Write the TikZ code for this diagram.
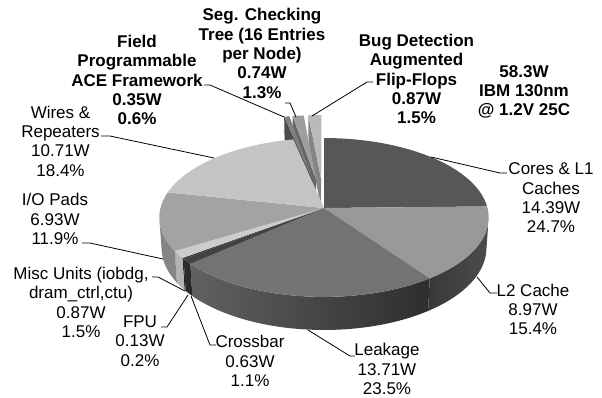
\documentclass[tikz,border=0pt]{standalone}
\usepackage{fontspec}
\setmainfont{Liberation Sans}

% grey levels of the slices
\definecolor{coresTop}{gray}{0.34}
\definecolor{ltwoTop}{gray}{0.60}
\definecolor{ltwoSideA}{gray}{0.22}
\definecolor{ltwoSideB}{gray}{0.30}
\definecolor{leakTop}{gray}{0.45}
\definecolor{leakSideA}{gray}{0.38}
\definecolor{leakSideB}{gray}{0.18}
\definecolor{crossTop}{gray}{0.26}
\definecolor{crossSide}{gray}{0.17}
\definecolor{fpuTop}{gray}{0.20}
\definecolor{fpuSide}{gray}{0.14}
\definecolor{miscTop}{gray}{0.80}
\definecolor{miscSide}{gray}{0.70}
\definecolor{ioTop}{gray}{0.64}
\definecolor{ioSide}{gray}{0.52}
\definecolor{wiresTop}{gray}{0.77}
\definecolor{fieldTop}{gray}{0.50}
\definecolor{fieldWall}{gray}{0.30}
\definecolor{segTop}{gray}{0.62}
\definecolor{segWall}{gray}{0.40}
\definecolor{bugTop}{gray}{0.73}
\definecolor{bugWall}{gray}{0.52}

% top face of a slice: start angle, end angle, shift x, shift y, fill options
\newcommand\pietop[5]{%
  \path[#5] ({pu(#3,#4,0)},{pv(#3,#4,0)})
    -- plot[domain=#1:#2,samples=36,variable=\t]
       ({pu(#3+cos(\t),#4+sin(\t),0)},{pv(#3+cos(\t),#4+sin(\t),0)})
    -- cycle;}
% outer side of a slice (not exploded): start angle, end angle, fill options
\newcommand\pieside[3]{%
  \path[#3] plot[domain=#1:#2,samples=36,variable=\t]
       ({pu(cos(\t),sin(\t),0)},{pv(cos(\t),sin(\t),0)})
    -- plot[domain=#2:#1,samples=36,variable=\t]
       ({pu(cos(\t),sin(\t),-0.215)},{pv(cos(\t),sin(\t),-0.215)})
    -- cycle;}
% radial cut wall of an exploded slice: angle, shift x, shift y, fill options
\newcommand\piewall[4]{%
  \path[#4] ({pu(#2,#3,0)},{pv(#2,#3,0)})
    -- ({pu(#2+cos(#1),#3+sin(#1),0)},{pv(#2+cos(#1),#3+sin(#1),0)})
    -- ({pu(#2+cos(#1),#3+sin(#1),-0.215)},{pv(#2+cos(#1),#3+sin(#1),-0.215)})
    -- ({pu(#2,#3,-0.215)},{pv(#2,#3,-0.215)}) -- cycle;}

\begin{document}
\begin{tikzpicture}[x=1bp,y=-1bp,
  declare function={
    pd(\pa,\pb,\pc)=7.38+0.878*\pb-0.479*\pc;
    pu(\pa,\pb,\pc)=324+1206.6*\pa/pd(\pa,\pb,\pc);
    pv(\pa,\pb,\pc)=208-1206.6*(0.479*\pb+0.878*\pc)/pd(\pa,\pb,\pc);
  },
  lbl/.style={align=center,inner sep=0pt,font=\fontsize{17bp}{19.3bp}\selectfont},
  blbl/.style={align=center,inner sep=0pt,font=\fontsize{17bp}{19.3bp}\selectfont\bfseries},
  leader/.style={draw=black,line width=0.8bp},
]
\fill[white] (0,0) rectangle (602,397);
\useasboundingbox (0,0) rectangle (602,397);

% exploded slices at the back
\piewall{95.37}{-0.0179}{0.3826}{fill=bugWall}
\pietop{95.37}{90}{-0.0179}{0.3826}{fill=bugTop}
\piewall{99.94}{-0.0510}{0.3796}{fill=segWall}
\pietop{99.94}{95.37}{-0.0510}{0.3796}{fill=segTop}
\piewall{102.10}{-0.0732}{0.3760}{fill=fieldWall}
\pietop{102.10}{99.94}{-0.0732}{0.3760}{fill=fieldTop}

% outer sides of the front slices
\pieside{-8.88}{-54.25}{left color=ltwoSideA,right color=ltwoSideB}
\pieside{-54.25}{-138.91}{left color=leakSideA,right color=leakSideB}
\pieside{-138.91}{-142.80}{fill=crossSide}
\pieside{-142.80}{-143.60}{fill=fpuSide}
\pieside{-143.60}{-148.97}{fill=miscSide}
\pieside{-148.97}{-171.12}{fill=ioSide}

% top faces
\pietop{90}{1.14}{0}{0}{fill=coresTop}
\pietop{1.14}{-54.25}{0}{0}{fill=ltwoTop}
\pietop{-54.25}{-138.91}{0}{0}{fill=leakTop}
\pietop{-138.91}{-142.80}{0}{0}{fill=crossTop}
\pietop{-142.80}{-143.60}{0}{0}{fill=fpuTop}
\pietop{-143.60}{-148.97}{0}{0}{fill=miscTop}
\pietop{-148.97}{-191.77}{0}{0}{fill=ioTop}
\pietop{-191.77}{-257.90}{0}{0}{fill=wiresTop}

% labels
\node[lbl]  (cores) at (551,198)   {Cores \& L1\\Caches\\14.39W\\24.7\%};
\node[lbl]  (ltwo)  at (533,309.5) {L2 Cache\\8.97W\\15.4\%};
\node[lbl]  (leak)  at (387,369)   {Leakage\\13.71W\\23.5\%};
\node[lbl]  (cross) at (250,361)   {Crossbar\\0.63W\\1.1\%};
\node[lbl]  (fpu)   at (140,341)   {FPU\\0.13W\\0.2\%};
\node[lbl]  (misc)  at (81,302.5)  {Misc Units (iobdg,\\dram\_ctrl,ctu)\\0.87W\\1.5\%};
\node[lbl]  (io)    at (55,219)    {I/O Pads\\6.93W\\11.9\%};
\node[lbl]  (wires) at (60.5,141)  {Wires \&\\Repeaters\\10.71W\\18.4\%};
\node[blbl] (field) at (137,80)    {Field\\Programmable\\ACE Framework\\0.35W\\0.6\%};
\node[blbl] (seg)   at (262,53.5)  {Seg. Checking\\Tree (16 Entries\\per Node)\\0.74W\\1.3\%};
\node[blbl] (bug)   at (416.5,79)  {Bug Detection\\Augmented\\Flip-Flops\\0.87W\\1.5\%};
\node[blbl] (total) at (524,92)    {58.3W\\IBM 130nm\\@ 1.2V 25C};

% leader points on the slices, knees and label ends
\coordinate (coresP) at (431,157);  \coordinate (coresK) at (500,173); \coordinate (coresE) at (507,173);
\coordinate (ltwoP)  at (477,277);  \coordinate (ltwoK)  at (490,293); \coordinate (ltwoE)  at (497,293);
\coordinate (leakP)  at (308,330);  \coordinate (leakK)  at (350,356); \coordinate (leakE)  at (355,356);
\coordinate (crossP) at (191,296);  \coordinate (crossK) at (210,345); \coordinate (crossE) at (216,345);
\coordinate (fpuP)   at (188,295);  \coordinate (fpuK)   at (167,327); \coordinate (fpuE)   at (161,327);
\coordinate (miscP)  at (185,291);  \coordinate (miscK)  at (158,277); \coordinate (miscE)  at (152,277);
\coordinate (ioP)    at (163,259);  \coordinate (ioK)    at (90,243);  \coordinate (ioE)    at (82,243);
\coordinate (wiresP) at (214,158);  \coordinate (wiresK) at (110,136); \coordinate (wiresE) at (101,136);
\coordinate (fieldP) at (284,117);  \coordinate (fieldK) at (210,85);  \coordinate (fieldE) at (204,85);
\coordinate (segP)   at (296,117);  \coordinate (segK)   at (290,103); \coordinate (segE)   at (285,103);
\coordinate (bugP)   at (312,116);  \coordinate (bugK)   at (367,82);  \coordinate (bugE)   at (373,82);

\foreach \n in {cores,ltwo,leak,cross,fpu,misc,io,wires,field,seg,bug}
  \draw[leader] (\n P) -- (\n K) -- (\n E);
\end{tikzpicture}
\end{document}
